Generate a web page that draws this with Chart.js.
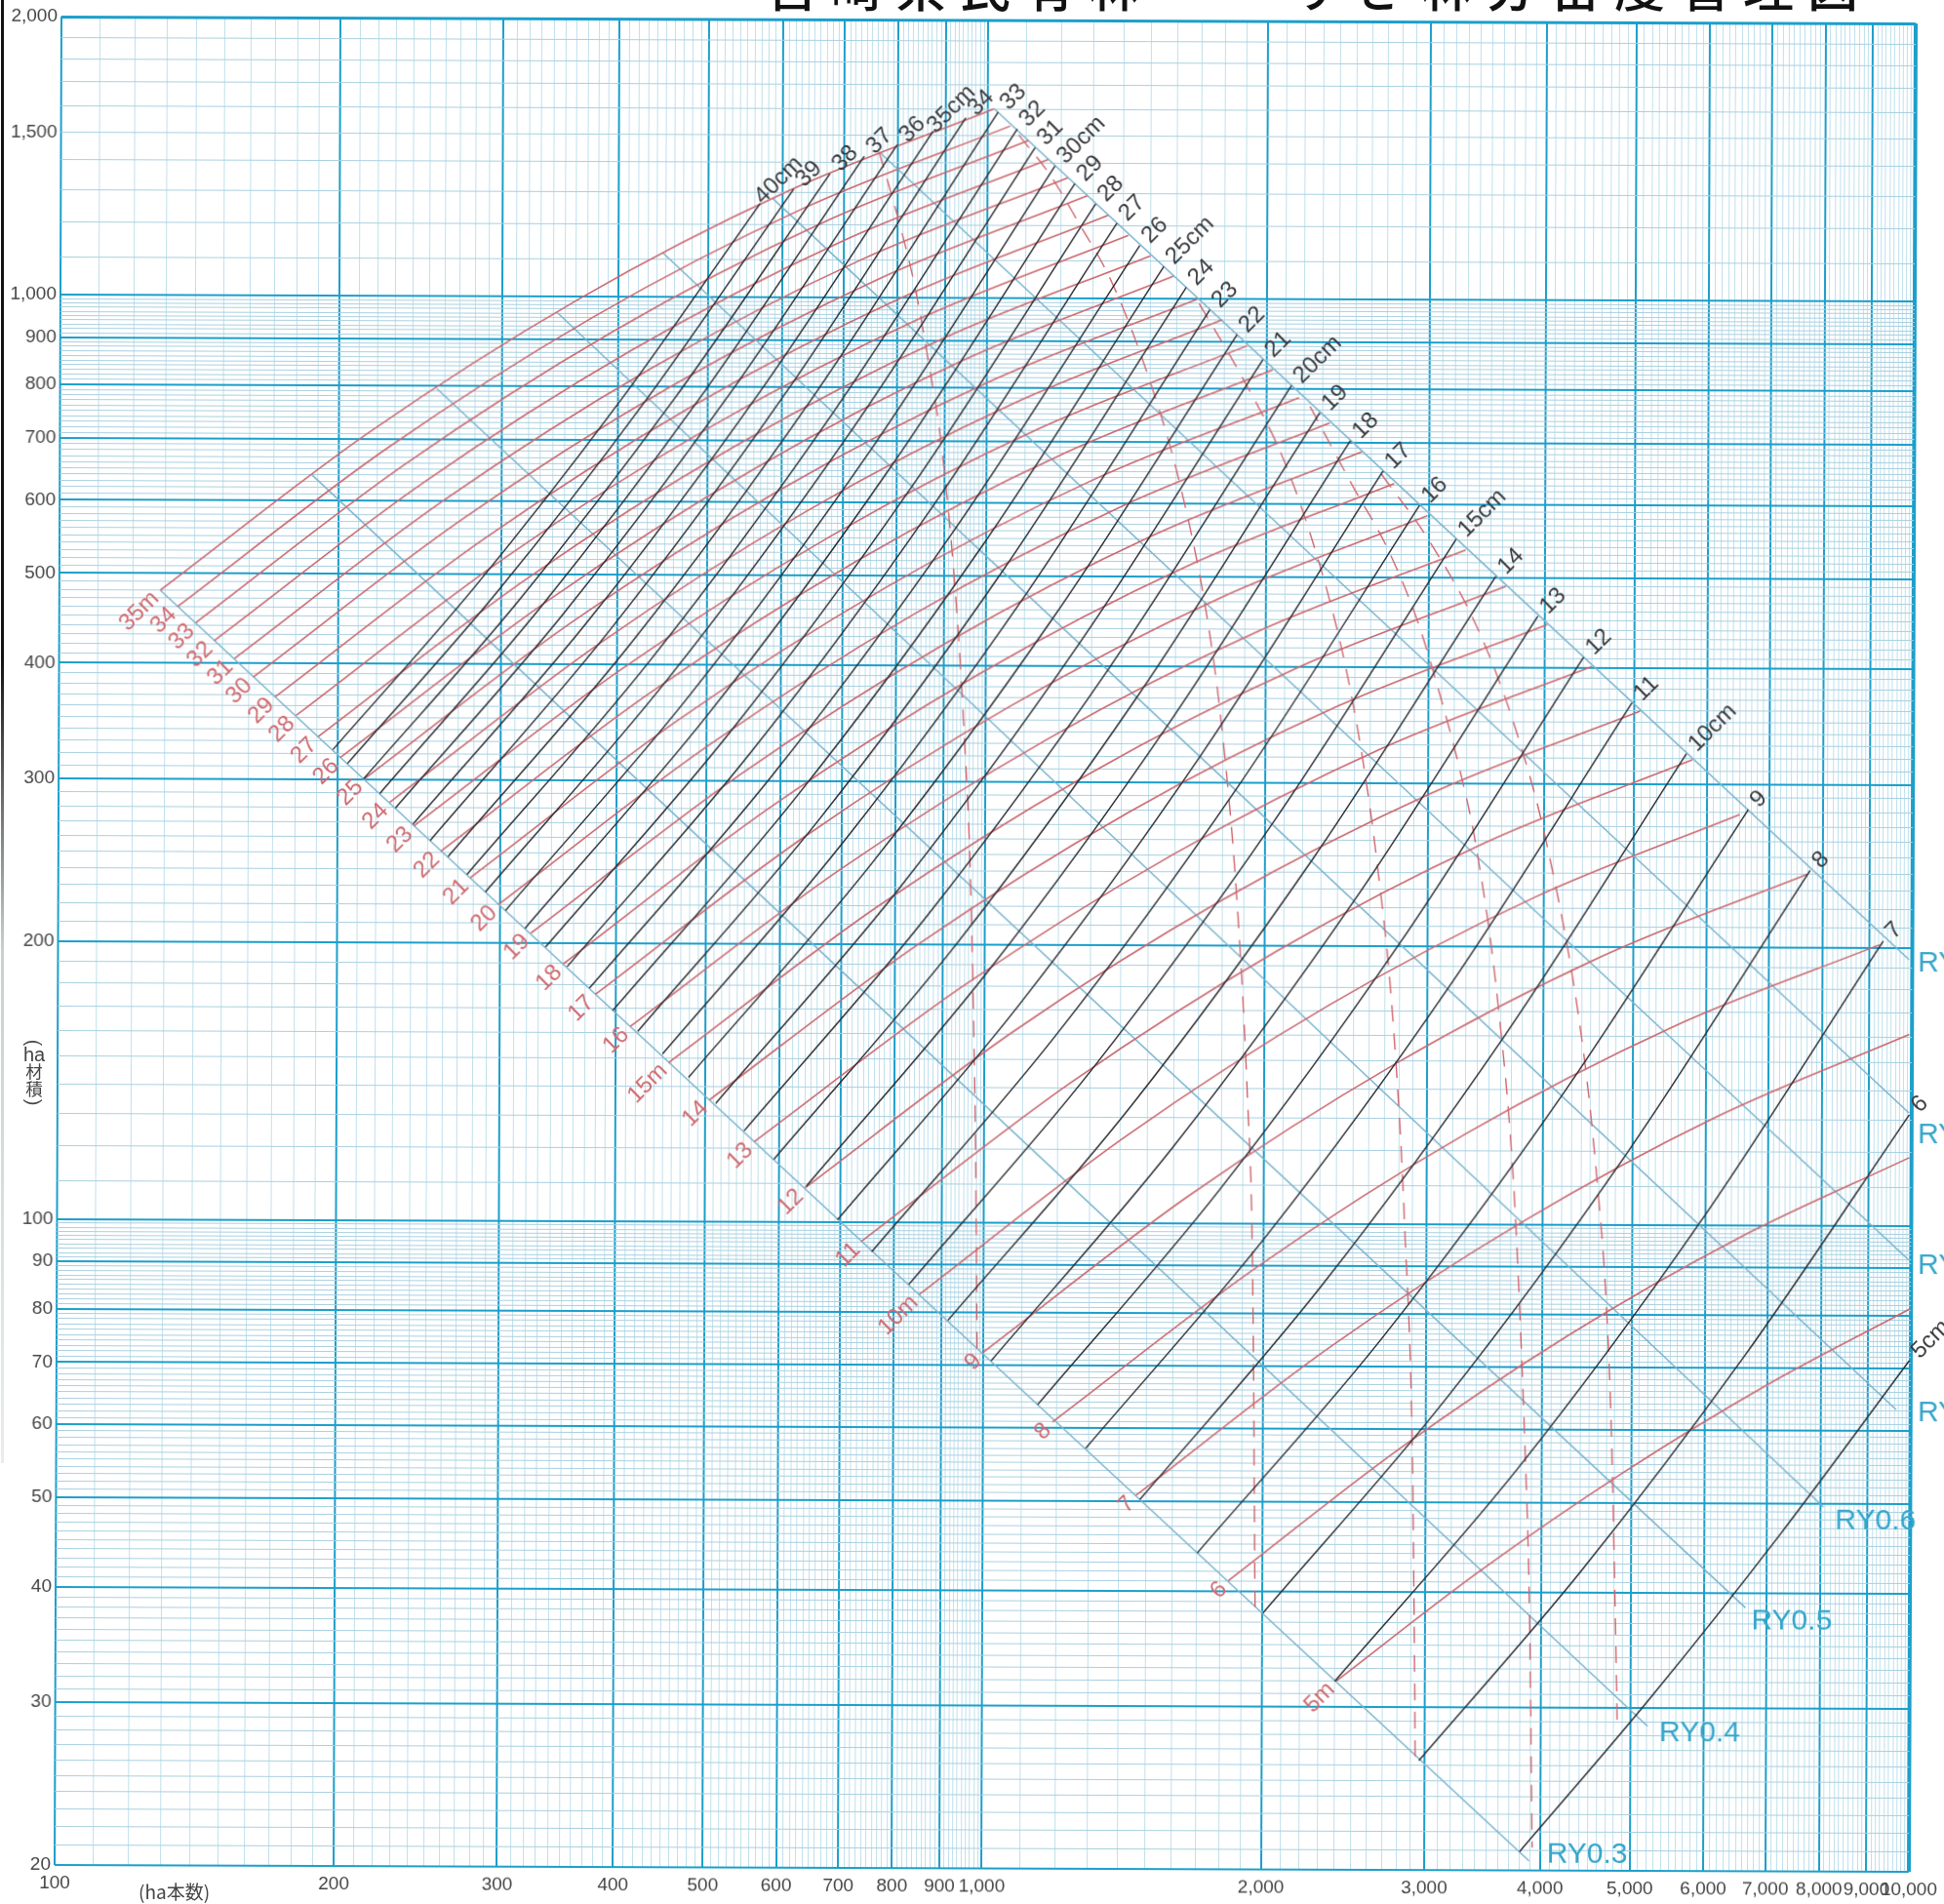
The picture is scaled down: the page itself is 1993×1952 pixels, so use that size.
<!DOCTYPE html>
<html lang="ja">
<head>
<meta charset="utf-8">
<title>林分密度管理図</title>
<style>
  html, body { margin: 0; background: #fff; overflow: hidden; width: 1993px; height: 1952px; }
  #wrap { position: relative; width: 1993px; height: 1952px; overflow: hidden; }
  canvas { position: absolute; left: 0; top: 0; transform-origin: 56px 1912px; transform: rotate(0.212deg); }
  .title { position: absolute; top: -41px; font: 500 52px/52px "Noto Sans CJK JP"; color: #111; white-space: nowrap; letter-spacing: 14px; }
  .unit { position: absolute; font-family: "Noto Sans CJK JP"; color: #444; }
  #unitY { left: 20px; top: 1064px; width: 30px; text-align: center; font-size: 17.5px; }
  #unitY span { display: block; }
  #unitY .paren { height: 10px; line-height: 10px; font: 20px/10px "Liberation Sans"; transform: rotate(90deg); }
  #unitY .ha { height: 15px; line-height: 15px; font: 20px/15px "Liberation Sans"; }
  #unitY .kanji { height: 18px; line-height: 18px; }
  #unitX { left: 142px; top: 1926px; font-size: 19px; line-height: 26px; }
  #edge { position: absolute; left: 1px; top: 0; width: 3px; height: 1500px; background: linear-gradient(#111 0, #111 45%, #c8d0d2 65%, #e8ecec 100%); }
</style>
</head>
<body>
<div id="wrap">
  <canvas id="chart" width="1993" height="1952"></canvas>
  <div class="title" style="left:786px">宮崎県民有林</div>
  <div class="title" style="left:1325px">すぎ林分密度管理図</div>
  <div class="unit" id="unitY"><span class="paren">(</span><span class="ha">ha</span><span class="kanji">材</span><span class="kanji">積</span><span class="paren">)</span></div>
  <div class="unit" id="unitX">(ha本数)</div>
  <div id="edge"></div>
</div>
<script src="https://cdn.jsdelivr.net/npm/chart.js@4"></script>
<script>
// Tick labels and heavy grid lines
const xMajor = [100, 200, 300, 400, 500, 600, 700, 800, 900, 1000, 2000, 3000, 4000, 5000, 6000, 7000, 8000, 9000, 10000];
const yMajor = [20, 30, 40, 50, 60, 70, 80, 90, 100, 200, 300, 400, 500, 600, 700, 800, 900, 1000, 2000];
const yLabelled = [...yMajor, 1500];

// Mean diameter curves (ha stems, ha volume)
const b5x=[3803,5243,7228,9964], b5y=[20.96,30.69,46.19,71.46];
const b6x=[2959,4433,6639,9942], b6y=[26.27,42.35,72.53,131.9];
const b7x=[2399,3771,5924,9305], b7y=[31.99,54.41,100.8,203.3];
const b8x=[2006,3149,4943,7756], b8y=[37.89,64.58,119.9,242.2];
const b9x=[1703,2683,4223,6647], b9y=[43.97,75,139.3,281.7];
const b10x=[1476,2316,3633,5697], b10y=[50.2,85.8,159.7,323.5];
const b11x=[1290,2024,3173,4974], b11y=[57.04,97.43,181.2,367];
const b12x=[1144,1794,2813,4410], b12y=[63.53,108.7,202.6,411.2];
const b13x=[1019,1599,2509,3934], b13y=[70.86,121,224.9,455.2];
const b14x=[914.7,1437,2256,3542], b14y=[78.31,133.6,248.3,502.3];
const b15x=[830,1303,2045,3209], b15y=[85.62,146.2,272,550.8];
const b16x=[756.6,1189,1866,2930], b16y=[92.86,158.8,295.7,599.5];
const b17x=[694.6,1089,1707,2675], b17y=[100.5,172.1,321.2,652.4];
const b18x=[642.5,1006,1575,2466], b18y=[109.2,186.6,347.2,703.5];
const b19x=[592.9,930,1458,2285], b19y=[116.8,199.7,371.9,753.9];
const b20x=[550.6,864.5,1357,2129], b20y=[125.4,214.2,398.3,806.7];
const b21x=[512.9,805.3,1264,1983], b21y=[134.2,228.9,425.4,860.5];
const b22x=[479.2,753.2,1183,1859], b22y=[143.1,244,452.8,915.1];
const b23x=[449.2,705.2,1107,1737], b23y=[151.7,258.9,481.1,973.2];
const b24x=[422.3,663.7,1043,1638], b24y=[160.4,273.7,508.5,1029];
const b25x=[397,625.2,984.4,1549], b25y=[169,288.4,535.8,1084];
const b26x=[374.4,589.3,927.4,1459], b26y=[178.6,304.5,565.1,1142];
const b27x=[354.2,557.2,876.4,1378], b27y=[188.4,321.4,596.9,1207];
const b28x=[335.6,528.2,831.2,1307], b28y=[197.8,337.2,626.2,1266];
const b29x=[318.9,501.7,789.1,1241], b29y=[207.2,353.9,657.9,1332];
const b30x=[303.8,477.8,751.3,1181], b30y=[216.6,369.7,687.2,1391];
const b31x=[288.9,454.6,714.9,1124], b31y=[226.8,387.2,719.6,1456];
const b32x=[275.9,434.2,683.3,1075], b32y=[236.8,404.6,752.8,1525];
const b33x=[263.2,414.2,651.6,1025], b33y=[247.5,422.5,785.4,1590];
const b34x=[251.8,391.5,608.7,945.9], b34y=[257.7,434.3,792.9,1567];
const b35x=[241.2,370.3,568.3,872], b35y=[268.3,443.5,789.8,1515];
const b36x=[230.9,349.3,528.1,798.2], b36y=[279.3,453.1,787.2,1465];
const b37x=[222.1,331.1,493.5,735.4], b37y=[289.6,462.2,785.8,1423];
const b38x=[213.3,313.3,460.1,675.4], b38y=[300.3,469.3,776.8,1362];
const b39x=[204.9,296,427.5,617.3], b39y=[311.9,477.6,770.6,1310];
const b40x=[197.6,281,399.6,568.2], b40y=[322.9,485.7,765.5,1264];

// Top height curves
const r5x=[2407,3432,4895,6982,9959], r5y=[31.99,42.1,53.89,67.09,81.24];
const r6x=[1840,2805,4276,6521,9945], r6y=[41.04,57.02,75.93,96.9,118.5];
const r7x=[1462,2360,3810,6151,9934], r7y=[50.75,73.46,100.7,130.9,161.1];
const r8x=[1187,1981,3307,5521,9220], r8y=[60.85,90.04,125.3,163.8,201.4];
const r9x=[997.6,1663,2772,4622,7709], r9y=[72.29,107.1,149,195.1,240];
const r10x=[852.1,1416,2353,3912,6506], r10y=[83.54,123.8,172.5,225.9,278.2];
const r11x=[737.7,1234,2065,3455,5784], r11y=[95.29,141.4,197.2,258.6,318.7];
const r12x=[640.5,1074,1803,3025,5078], r12y=[108.8,161,223.9,292.6,359.6];
const r13x=[564.4,948.1,1593,2677,4500], r13y=[122,180.3,250.5,327.2,401.8];
const r14x=[505,848.3,1425,2395,4026], r14y=[135.4,200.1,278,363.1,445.7];
const r15x=[456.2,766.1,1287,2162,3634], r15y=[148.5,219.6,305.3,399.1,490.3];
const r16x=[414.5,695.4,1167,1958,3287], r16y=[162.4,240.2,333.9,436.5,536.4];
const r17x=[380,636.2,1065,1784,2989], r17y=[175.9,260.5,362.6,474.6,584];
const r18x=[350.8,586.8,981.8,1643,2750], r18y=[189.7,281.2,391.9,513.6,632.6];
const r19x=[323.6,541.2,905.6,1515,2537], r19y=[204.8,303.7,423.6,555.3,684.5];
const r20x=[298.4,499.3,835.6,1399,2342], r20y=[219.8,326.1,454.9,596.4,735.1];
const r21x=[278.2,464.7,776.6,1298,2170], r21y=[234.9,348.2,485.2,635.7,782.9];
const r22x=[258.6,432.9,724.7,1214,2033], r22y=[250.9,372.2,519.1,680.6,838.8];
const r23x=[241.8,405,678.4,1137,1905], r23y=[267.2,396,551.8,722.8,890.1];
const r24x=[227.6,381.1,638.2,1069,1791], r24y=[283.2,420.4,586.8,769.9,949.6];
const r25x=[213.7,357.8,599.5,1004,1683], r25y=[300.3,445,620,811.9,999.6];
const r26x=[201.2,337.1,564.7,946.3,1586], r26y=[316.5,469.5,654.8,858.4,1058];
const r27x=[190.5,318.9,533.9,894.1,1498], r27y=[333.5,494.6,689.4,903.4,1113];
const r28x=[180.3,301.8,505.4,846.6,1418], r28y=[351.5,520.9,725.7,950.6,1171];
const r29x=[171.2,286.7,480.3,804.6,1348], r29y=[368.1,546.1,761.7,998.7,1231];
const r30x=[162,271.5,455.1,763,1280], r30y=[386.6,573.4,799.6,1048,1292];
const r31x=[154.6,259,433.9,727.2,1219], r31y=[404.9,600.4,836.9,1097,1351];
const r32x=[147,246.4,413.1,692.5,1161], r32y=[423.2,627.8,875.4,1148,1414];
const r33x=[140.4,235.1,393.8,659.8,1106], r33y=[442.4,656.6,916.2,1202,1482];
const r34x=[134.2,224.7,376.3,630.4,1056], r34y=[460.6,682.8,951.7,1247,1536];
const r35x=[128.5,215.3,360.9,605.1,1015], r35y=[479.5,711.3,991.9,1300,1603];

// Yield index (RY) lines
const ry3x=[128.5,3894], ry3y=[479.5,20.48];
const ry4x=[187.1,5220], ry4y=[640,28.67];
const ry5x=[254.9,6649], ry5y=[794.4,38.56];
const ry6x=[343.5,8063], ry6y=[961.4,49.61];
const ry7x=[446.1,9649], ry7y=[1117,63.25];
const ry8x=[585.9,9949], ry8y=[1280,91.78];
const ry9x=[764.4,9935], ry9y=[1436,132.5];
const ry10x=[1015,9921], ry10y=[1603,194.1];

// Dashed lines
const d1x=[762.7,795.5,833.9,865.9,890.8,921.1,946.9,964.5,979.7,983.9], d1y=[1439,1246,1034,843.2,706.5,510.7,342.1,227.6,108.1,71.84];
const d2x=[1079,1171,1250,1362,1503,1615,1725,1792,1866,1921,1949,1967], d2y=[1503,1353,1213,1041,806.4,631.4,460.4,351.5,227.1,136.8,88.86,38.35];
const d3x=[1692,1866,2093,2276,2432,2549,2638,2755,2842,2906,2932], d3y=[988,837,668,525,408,319,251,166.6,99.5,53.3,26.44];
const d4x=[2230,2474,2714,2925,3094,3249,3378,3577,3734,3836,3885,3923], d4y=[766,632,535,446,371,309,258,173,105.6,58.6,39.9,21.18];
const d5x=[2663,3004,3392,3725,4034,4416,4584,4696,4767,4842], d5y=[648,548,440,344,257,156,110.8,81.2,56,28.5];

const dbhCurves = [
  ['5cm',b5x,b5y],['6',b6x,b6y],['7',b7x,b7y],['8',b8x,b8y],['9',b9x,b9y],['10cm',b10x,b10y],['11',b11x,b11y],['12',b12x,b12y],
  ['13',b13x,b13y],['14',b14x,b14y],['15cm',b15x,b15y],['16',b16x,b16y],['17',b17x,b17y],['18',b18x,b18y],['19',b19x,b19y],['20cm',b20x,b20y],
  ['21',b21x,b21y],['22',b22x,b22y],['23',b23x,b23y],['24',b24x,b24y],['25cm',b25x,b25y],['26',b26x,b26y],['27',b27x,b27y],['28',b28x,b28y],
  ['29',b29x,b29y],['30cm',b30x,b30y],['31',b31x,b31y],['32',b32x,b32y],['33',b33x,b33y],['34',b34x,b34y],['35cm',b35x,b35y],['36',b36x,b36y],
  ['37',b37x,b37y],['38',b38x,b38y],['39',b39x,b39y],['40cm',b40x,b40y],
];
const heightCurves = [
  ['5m',r5x,r5y],['6',r6x,r6y],['7',r7x,r7y],['8',r8x,r8y],['9',r9x,r9y],['10m',r10x,r10y],['11',r11x,r11y],['12',r12x,r12y],
  ['13',r13x,r13y],['14',r14x,r14y],['15m',r15x,r15y],['16',r16x,r16y],['17',r17x,r17y],['18',r18x,r18y],['19',r19x,r19y],['20',r20x,r20y],
  ['21',r21x,r21y],['22',r22x,r22y],['23',r23x,r23y],['24',r24x,r24y],['25',r25x,r25y],['26',r26x,r26y],['27',r27x,r27y],['28',r28x,r28y],
  ['29',r29x,r29y],['30',r30x,r30y],['31',r31x,r31y],['32',r32x,r32y],['33',r33x,r33y],['34',r34x,r34y],['35m',r35x,r35y],
];
const ryLines = [
  ['RY0.3',ry3x,ry3y],['RY0.4',ry4x,ry4y],['RY0.5',ry5x,ry5y],['RY0.6',ry6x,ry6y],
  ['RY0.7',ry7x,ry7y],['RY0.8',ry8x,ry8y],['RY0.9',ry9x,ry9y],['RY1.0',ry10x,ry10y],
];
const dashedLines = [[d1x,d1y],[d2x,d2y],[d3x,d3y],[d4x,d4y],[d5x,d5y]];

// Where each RY label sits relative to the end of its line
const ryLabelOffset = { 'RY0.3':[18,-7], 'RY0.4':[12,7], 'RY0.5':[6,14], 'RY0.6':[12,15], 'RY0.7':[22,4], 'RY0.8':[9,6], 'RY0.9':[9,23], 'RY1.0':[9,4] };
// The long labels on the top row sit tighter against their curve
const dbhLabelOffset = { '35cm':[-2,-2], '40cm':[-2,-3] };

const BLUE = '#1c9fcb';

// Fill in the ten fine divisions between each pair of heavy lines
function withMinor(majors) {
  const out = [];
  majors.forEach((m, i) => {
    out.push(m);
    if (i < majors.length - 1) {
      const step = (majors[i + 1] - m) / 10;
      for (let k = 1; k < 10; k++) out.push(m + step * k);
    }
  });
  return out;
}

function toPoints(xs, ys) {
  return xs.map((x, i) => ({ x, y: ys[i] }));
}

function lineSet(xs, ys, color, width, order, dash) {
  return {
    data: toPoints(xs, ys),
    borderColor: color,
    borderWidth: width,
    borderDash: dash || [],
    pointRadius: 0,
    cubicInterpolationMode: 'monotone',
    fill: false,
    order,
  };
}

const datasets = [
  ...dbhCurves.map(c => lineSet(c[1], c[2], '#25262c', 1.4, 1)),
  ...heightCurves.map(c => lineSet(c[1], c[2], '#c9686e', 1.6, 2)),
  ...dashedLines.map(c => lineSet(c[0], c[1], '#d0646c', 1.4, 3, [17, 12])),
  ...ryLines.map(c => lineSet(c[1], c[2], '#78b3cd', 1.5, 4)),
];

// Curve and RY labels, anchored on the curve ends through the scales
const curveLabels = {
  id: 'curveLabels',
  afterDatasetsDraw(chart) {
    const { ctx, scales } = chart;
    const put = (x, y, dx, dy, text, align, color, font, rot) => {
      ctx.save();
      ctx.translate(scales.x.getPixelForValue(x) + dx, scales.y.getPixelForValue(y) + dy);
      ctx.rotate(rot);
      ctx.textAlign = align;
      ctx.textBaseline = 'middle';
      ctx.fillStyle = color;
      ctx.font = font;
      ctx.fillText(text, 0, 0);
      ctx.restore();
    };
    const tilt = -Math.PI / 4;
    dbhCurves.forEach(c => {
      const n = c[1].length - 1;
      const off = dbhLabelOffset[c[0]] || [6, -6];
      put(c[1][n], c[2][n], off[0], off[1], c[0], 'left', '#3a3a3e', '24px "Liberation Sans"', tilt);
    });
    heightCurves.forEach(c => {
      put(c[1][0], c[2][0], -5, 5, c[0], 'right', '#cf6a70', '24px "Liberation Sans"', tilt);
    });
    ryLines.forEach(c => {
      const off = ryLabelOffset[c[0]];
      put(c[1][1], c[2][1], off[0], off[1], c[0], 'left', '#35a6cb', '30px "Liberation Sans"', 0);
    });
  },
};

new Chart(document.getElementById('chart').getContext('2d'), {
  type: 'line',
  data: { datasets },
  plugins: [curveLabels],
  options: {
    responsive: false,
    animation: false,
    devicePixelRatio: 1,
    layout: { padding: { top: 17, right: 33.4, left: 0, bottom: 0 } },
    plugins: { legend: { display: false }, title: { display: false }, tooltip: { enabled: false } },
    scales: {
      x: {
        type: 'logarithmic',
        min: 100,
        max: 10000,
        afterBuildTicks(scale) { scale.ticks = withMinor(xMajor).map(value => ({ value })); },
        afterFit(scale) { scale.height = 40; },
        border: { display: false },
        grid: {
          drawTicks: false,
          color: c => xMajor.includes(c.tick.value) ? BLUE : '#bfe0ec',
          lineWidth: c => c.tick.value === 10000 ? 4 : xMajor.includes(c.tick.value) ? 2 : 1,
        },
        ticks: {
          autoSkip: false,
          maxRotation: 0,
          padding: 7,
          color: '#444',
          font: { family: 'Liberation Sans', size: 19 },
          callback: v => xMajor.includes(v) ? v.toLocaleString('en-US') : '',
        },
      },
      y: {
        type: 'logarithmic',
        min: 20,
        max: 2000,
        afterBuildTicks(scale) { scale.ticks = withMinor(yMajor).map(value => ({ value })); },
        afterFit(scale) { scale.width = 56; },
        border: { display: false },
        grid: {
          drawTicks: false,
          color: c => yMajor.includes(c.tick.value) ? BLUE : '#a9d0e0',
          lineWidth: c => c.tick.value === 2000 ? 3 : yMajor.includes(c.tick.value) ? 2 : 1,
        },
        ticks: {
          autoSkip: false,
          padding: 4,
          color: '#444',
          font: { family: 'Liberation Sans', size: 19 },
          callback: v => yLabelled.includes(v) ? v.toLocaleString('en-US') : '',
        },
      },
    },
  },
});
</script>
</body>
</html>
